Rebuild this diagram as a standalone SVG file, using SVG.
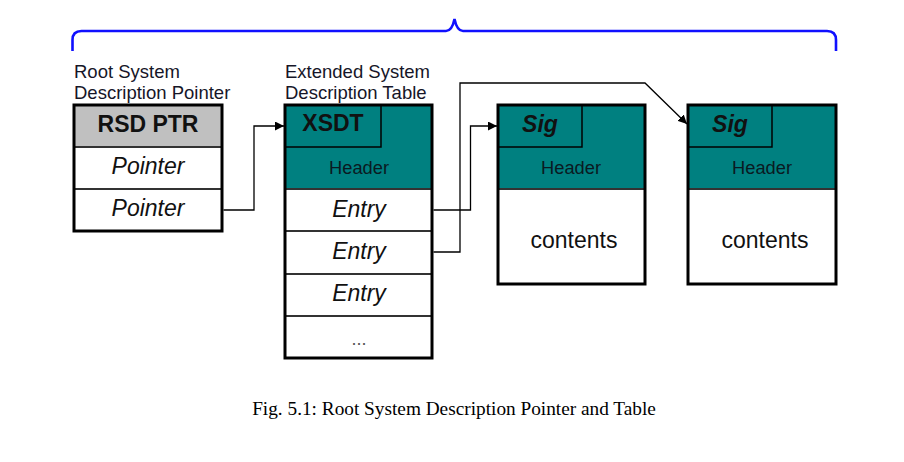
<svg xmlns="http://www.w3.org/2000/svg" width="904" height="462" viewBox="0 0 904 462">
<style>
.lbl{font-family:"Liberation Sans",Arial,sans-serif;font-size:18.5px;fill:#161628}
.cell{font-family:"Liberation Sans",Arial,sans-serif;font-size:23px;fill:#111;text-anchor:middle}
.it{font-style:italic}
.bd{font-weight:bold}
.hdr{font-family:"Liberation Sans",Arial,sans-serif;font-size:18.3px;fill:#0a1a22;text-anchor:middle}
.outer{fill:none;stroke:#000;stroke-width:3}
.inner{fill:none;stroke:#000;stroke-width:1.5}
.div{stroke:#333;stroke-width:2}
.teal{fill:#008080}
.conn{fill:none;stroke:#000;stroke-width:1.3}
.cap{font-family:"Liberation Serif","Times New Roman",serif;font-size:19.3px;fill:#000;text-anchor:middle}
</style>
<defs>
<marker id="ah" viewBox="0 0 10 10" refX="10" refY="5" markerWidth="9" markerHeight="9" markerUnits="userSpaceOnUse" orient="auto">
<path d="M0,0 L10,5 L0,10 Z" fill="#000"/>
</marker>
</defs>
<rect width="904" height="462" fill="#fff"/>

<g id="brace">
<path d="M72.5,51 V40 Q72.5,31 81.5,31 H446 Q452,31 454.5,19 Q457,31 463,31 H827 Q836,31 836,40 V51" fill="none" stroke="#1010ff" stroke-width="2.6"/>
</g>

<g id="rsdp">
<text class="lbl" x="74" y="78">Root System</text>
<text class="lbl" x="74" y="99">Description Pointer</text>
<rect x="74" y="105" width="148" height="42" fill="#c0c0c0"/>
<rect x="74" y="147" width="148" height="84" fill="#fff"/>
<line class="div" x1="74" y1="147" x2="222" y2="147"/>
<line class="div" x1="74" y1="189" x2="222" y2="189"/>
<rect class="outer" x="74" y="105" width="148" height="126"/>
<text class="cell bd" x="148" y="132">RSD PTR</text>
<text class="cell it" x="148" y="174">Pointer</text>
<text class="cell it" x="148" y="216">Pointer</text>
</g>

<g id="xsdt">
<text class="lbl" x="285" y="78">Extended System</text>
<text class="lbl" x="285" y="99">Description Table</text>
<rect class="teal" x="285" y="105" width="147" height="84"/>
<rect x="285" y="189" width="147" height="169" fill="#fff"/>
<rect class="inner" x="285" y="105" width="96" height="42"/>
<line class="div" x1="285" y1="189" x2="432" y2="189"/>
<line class="div" x1="285" y1="231" x2="432" y2="231"/>
<line class="div" x1="285" y1="274" x2="432" y2="274"/>
<line class="div" x1="285" y1="316" x2="432" y2="316"/>
<rect class="outer" x="285" y="105" width="147" height="253"/>
<text class="cell bd" x="333" y="131">XSDT</text>
<text class="hdr" x="359" y="174">Header</text>
<text class="cell it" x="359" y="217">Entry</text>
<text class="cell it" x="359" y="259">Entry</text>
<text class="cell it" x="359" y="301">Entry</text>
<text class="cell" x="359" y="345" style="font-size:18px;fill:#555">...</text>
</g>

<g id="table1">
<rect class="teal" x="498" y="105" width="147" height="84"/>
<rect x="498" y="189" width="147" height="95" fill="#fff"/>
<rect class="inner" x="498" y="105" width="84" height="42"/>
<line class="div" x1="498" y1="189" x2="645" y2="189"/>
<rect class="outer" x="498" y="105" width="147" height="179"/>
<text class="cell bd it" x="540" y="132">Sig</text>
<text class="hdr" x="571" y="174">Header</text>
<text class="cell" x="574" y="248">contents</text>
</g>

<g id="table2">
<rect class="teal" x="688" y="105" width="148" height="84"/>
<rect x="688" y="189" width="148" height="95" fill="#fff"/>
<rect class="inner" x="688" y="105" width="84" height="42"/>
<line class="div" x1="688" y1="189" x2="836" y2="189"/>
<rect class="outer" x="688" y="105" width="148" height="179"/>
<text class="cell bd it" x="730" y="132">Sig</text>
<text class="hdr" x="762" y="174">Header</text>
<text class="cell" x="765" y="248">contents</text>
</g>

<g id="connectors">
<path class="conn" d="M223.5,210 H254 V126 H284" marker-end="url(#ah)"/>
<path class="conn" d="M433.5,210 H470.5 V126 H497" marker-end="url(#ah)"/>
<path class="conn" d="M433.5,252 H460 V83 H645 L687,124" marker-end="url(#ah)"/>
</g>

<text class="cap" x="454" y="415">Fig. 5.1: Root System Description Pointer and Table</text>
</svg>
